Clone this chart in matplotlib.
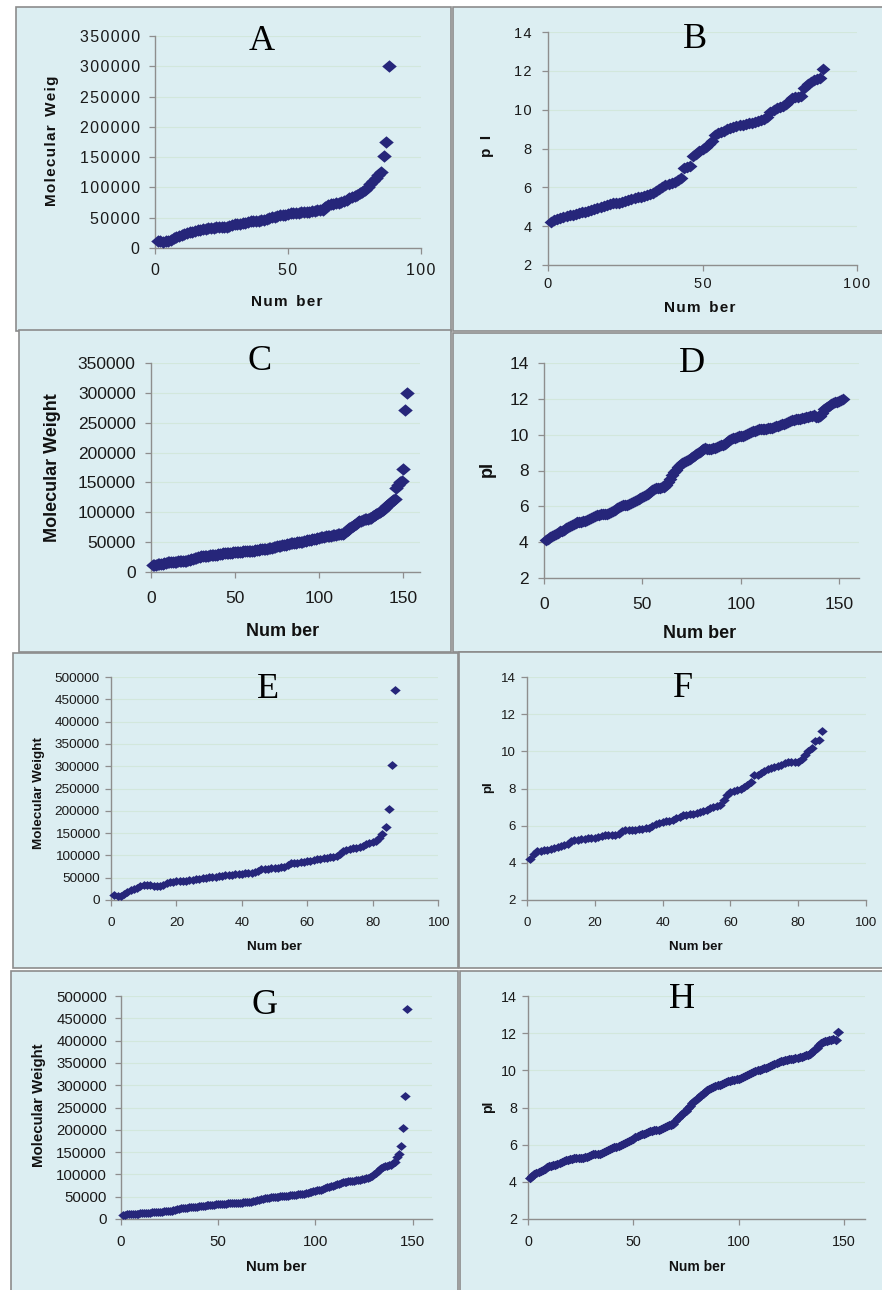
import numpy as np
import matplotlib
matplotlib.use("Agg")
import matplotlib.pyplot as plt
from matplotlib.ticker import MultipleLocator, FuncFormatter

# ---------------------------------------------------------------------------
# DATA (molecular weight in kDa, pI)
# ---------------------------------------------------------------------------

mw_a = [12, 11, 10, 11, 12, 14, 16, 18, 20, 22,
        23, 25, 26, 27, 28, 30, 30, 31, 32, 33,
        33, 33, 34, 34, 35, 35, 35, 36, 38, 39,
        40, 40, 41, 42, 43, 44, 44, 45, 45, 46,
        47, 48, 50, 51, 52, 53, 54, 55, 55, 56,
        57, 57, 58, 58, 59, 59, 60, 60, 61, 61,
        62, 62, 63, 68, 71, 72, 73, 74, 75, 76,
        78, 80, 82, 84, 86, 88, 90, 92, 95, 100,
        105, 110, 115, 120, 125, 152, 175, 300]

pi_b = [4.2, 4.3, 4.35, 4.4, 4.45, 4.5, 4.55, 4.6, 4.65, 4.7,
        4.75, 4.75, 4.8, 4.85, 4.9, 4.95, 5.0, 5.05, 5.1, 5.15,
        5.2, 5.2, 5.2, 5.25, 5.3, 5.35, 5.4, 5.45, 5.5, 5.5,
        5.55, 5.6, 5.65, 5.7, 5.8, 5.9, 6.0, 6.1, 6.15, 6.2,
        6.3, 6.4, 6.5, 7.0, 7.05, 7.1, 7.6, 7.7, 7.85, 8.0,
        8.1, 8.25, 8.4, 8.7, 8.8, 8.85, 8.9, 9.0, 9.05, 9.1,
        9.15, 9.2, 9.2, 9.25, 9.3, 9.3, 9.35, 9.4, 9.45, 9.5,
        9.6, 9.9, 10.0, 10.1, 10.15, 10.2, 10.3, 10.45, 10.6, 10.65,
        10.65, 10.7, 11.1, 11.3, 11.45, 11.55, 11.6, 11.65, 12.1]

mw_c = [11, 12, 12, 13, 13, 14, 14, 15, 15, 16,
        16, 16, 17, 17, 17, 18, 18, 18, 19, 19,
        19, 20, 20, 21, 22, 23, 24, 25, 25, 26,
        26, 27, 27, 27, 28, 28, 28, 29, 29, 30,
        30, 30, 31, 31, 31, 32, 32, 32, 33, 33,
        33, 34, 34, 34, 35, 35, 35, 35, 36, 36,
        36, 37, 37, 37, 38, 38, 38, 39, 39, 40,
        40, 41, 42, 42, 43, 44, 44, 45, 46, 46,
        47, 47, 48, 48, 49, 49, 50, 50, 51, 51,
        52, 52, 53, 53, 54, 55, 55, 56, 57, 57,
        58, 59, 59, 60, 60, 61, 61, 62, 62, 62,
        63, 63, 63, 64, 66, 68, 71, 73, 75, 77,
        79, 81, 83, 85, 86, 87, 88, 88, 89, 90,
        91, 93, 95, 97, 99, 100, 102, 104, 107, 110,
        112, 115, 118, 120, 123, 140, 145, 150, 153, 173, 272, 300]

pi_d = [4.1, 4.2, 4.3, 4.35, 4.4, 4.45, 4.5, 4.6, 4.65, 4.7,
        4.8, 4.85, 4.9, 4.95, 5.0, 5.05, 5.1, 5.1, 5.15, 5.2,
        5.2, 5.25, 5.3, 5.35, 5.4, 5.45, 5.5, 5.5, 5.55, 5.55,
        5.6, 5.6, 5.65, 5.7, 5.75, 5.8, 5.9, 5.95, 6.0, 6.05,
        6.1, 6.1, 6.15, 6.2, 6.25, 6.3, 6.35, 6.4, 6.45, 6.5,
        6.6, 6.65, 6.7, 6.8, 6.9, 6.95, 7.0, 7.05, 7.05, 7.1,
        7.1, 7.2, 7.35, 7.55, 7.75, 7.9, 8.05, 8.2, 8.3, 8.4,
        8.5, 8.55, 8.6, 8.65, 8.75, 8.8, 8.9, 9.0, 9.05, 9.15,
        9.2, 9.25, 9.2, 9.2, 9.2, 9.25, 9.25, 9.3, 9.35, 9.4,
        9.45, 9.5, 9.6, 9.7, 9.75, 9.8, 9.8, 9.85, 9.9, 9.9,
        9.95, 10.0, 10.05, 10.1, 10.15, 10.2, 10.2, 10.25, 10.3, 10.3,
        10.3, 10.3, 10.3, 10.35, 10.35, 10.4, 10.45, 10.5, 10.5, 10.55,
        10.6, 10.6, 10.65, 10.7, 10.75, 10.8, 10.8, 10.85, 10.9, 10.9,
        10.95, 10.95, 11.0, 11.0, 11.05, 11.05, 11.1, 11.0, 11.0, 11.05,
        11.2, 11.45, 11.5, 11.55, 11.6, 11.7, 11.75, 11.8, 11.85, 11.9, 11.95, 12.0]

mw_e = [11, 10, 9, 14, 19, 22, 25, 28, 31, 33,
        34, 33, 32, 32, 31, 33, 38, 41, 41, 42,
        42, 43, 43, 44, 45, 46, 48, 49, 50, 51,
        52, 52, 53, 54, 55, 56, 57, 58, 58, 59,
        60, 60, 61, 63, 66, 69, 70, 70, 71, 71,
        72, 73, 75, 79, 82, 83, 84, 85, 86, 87,
        88, 89, 91, 92, 94, 95, 96, 97, 99, 103,
        110, 113, 115, 116, 117, 119, 122, 125, 127, 130,
        133, 140, 148, 163, 203, 303, 470]

pi_f = [4.2, 4.5, 4.65, 4.65, 4.7, 4.7, 4.75, 4.8, 4.85, 4.9,
        4.95, 5.0, 5.2, 5.25, 5.25, 5.3, 5.3, 5.35, 5.35, 5.35,
        5.4, 5.45, 5.5, 5.5, 5.5, 5.5, 5.55, 5.7, 5.75, 5.75,
        5.75, 5.75, 5.8, 5.8, 5.85, 5.9, 6.0, 6.1, 6.15, 6.2,
        6.25, 6.25, 6.3, 6.4, 6.45, 6.55, 6.6, 6.65, 6.65, 6.7,
        6.75, 6.8, 6.85, 6.95, 7.0, 7.05, 7.1, 7.4, 7.65, 7.8,
        7.85, 7.9, 8.0, 8.1, 8.2, 8.35, 8.7, 8.75, 8.85, 8.95,
        9.05, 9.1, 9.15, 9.2, 9.25, 9.35, 9.4, 9.45, 9.45, 9.4,
        9.6, 9.8, 10.0, 10.2, 10.55, 10.6, 11.1]

mw_g = [10, 10, 11, 11, 11, 12, 12, 12, 12, 13,
        13, 13, 14, 14, 14, 15, 15, 15, 16, 16,
        16, 17, 17, 17, 18, 19, 20, 21, 22, 23,
        24, 24, 25, 25, 26, 27, 27, 28, 28, 29,
        29, 30, 30, 31, 31, 32, 32, 32, 33, 33,
        33, 34, 34, 34, 35, 35, 35, 36, 36, 36,
        36, 36, 37, 37, 37, 38, 39, 40, 41, 42,
        43, 44, 45, 46, 47, 48, 49, 49, 50, 50,
        50, 51, 51, 51, 52, 52, 53, 53, 54, 54,
        55, 55, 56, 57, 58, 59, 60, 61, 62, 63,
        64, 65, 66, 68, 69, 71, 72, 73, 75, 76,
        78, 79, 80, 82, 83, 84, 85, 85, 86, 86,
        87, 87, 88, 89, 90, 91, 92, 94, 97, 100,
        104, 108, 112, 115, 117, 118, 119, 120, 122, 125,
        128, 140, 145, 163, 203, 275, 470]

pi_h = [4.2, 4.3, 4.4, 4.5, 4.55, 4.6, 4.65, 4.7, 4.8, 4.85,
        4.85, 4.9, 4.9, 4.95, 5.0, 5.05, 5.1, 5.15, 5.2, 5.25,
        5.25, 5.3, 5.3, 5.3, 5.3, 5.3, 5.35, 5.35, 5.4, 5.45,
        5.5, 5.5, 5.5, 5.5, 5.55, 5.6, 5.65, 5.7, 5.75, 5.8,
        5.85, 5.9, 5.95, 6.0, 6.05, 6.1, 6.15, 6.2, 6.25, 6.3,
        6.4, 6.45, 6.5, 6.55, 6.6, 6.65, 6.7, 6.75, 6.75, 6.8,
        6.8, 6.8, 6.85, 6.9, 6.95, 7.0, 7.05, 7.05, 7.1, 7.3,
        7.45, 7.55, 7.65, 7.75, 7.8, 7.95, 8.1, 8.25, 8.35, 8.45,
        8.55, 8.65, 8.75, 8.85, 8.95, 9.0, 9.05, 9.1, 9.15, 9.2,
        9.2, 9.25, 9.3, 9.35, 9.4, 9.45, 9.5, 9.5, 9.55, 9.55,
        9.6, 9.65, 9.7, 9.75, 9.8, 9.85, 9.9, 9.95, 10.0, 10.0,
        10.05, 10.1, 10.15, 10.2, 10.25, 10.3, 10.35, 10.4, 10.45, 10.5,
        10.5, 10.55, 10.55, 10.6, 10.6, 10.6, 10.65, 10.65, 10.7, 10.7,
        10.75, 10.8, 10.85, 10.9, 11.0, 11.1, 11.2, 11.35, 11.45, 11.55,
        11.6, 11.6, 11.65, 11.65, 11.7, 11.65, 12.05]

panel_letters = ["A", "B", "C", "D", "E", "F", "G", "H"]

# ---------------------------------------------------------------------------
# LAYOUT (pixel boxes on a 882 x 1290 canvas)
# ---------------------------------------------------------------------------

W, H = 882, 1290
BG = "#dceef2"
FRAME = "#8c8c8c"
NAVY = "#26267a"
GRID = "#d2e7dc"
SANS = ["Liberation Sans", "DejaVu Sans"]
SERIF = ["Liberation Serif", "DejaVu Serif"]


def fx(x):
    return x / W


def fy(y):
    return 1 - y / H


def box(x0, y0, x1, y1):
    return [fx(x0), fy(y1), (x1 - x0) / W, (y1 - y0) / H]


def spaced(s):
    # old Excel charts print labels with loose letter spacing
    return "\u200a".join(s)


diamond = [(-1, 0), (0, 0.85), (1, 0), (0, -0.85), (-1, 0)]

panels = [
    dict(data=mw_a, frame=(16, 7, 451, 331), area=(155, 36, 421, 248), xmax=100, xstep=50,
         kind="mw", ymax=350, ms=10.5, fs=11.5, lfs=11, loose=True,
         ylab="Molecular Weig", xlab="Num ber", ylab_xy=(52, 141), xlab_xy=(287, 302),
         title_xy=(262, 50), ypad=7, xpad=7),
    dict(data=pi_b, frame=(453, 7, 890, 331), area=(548, 32, 857, 265), xmax=100, xstep=50,
         kind="pi", ms=10, fs=10.5, lfs=11, loose=True,
         ylab="p I", xlab="Num  ber", ylab_xy=(487, 146), xlab_xy=(700, 308),
         title_xy=(695, 48), ypad=8, xpad=5),
    dict(data=mw_c, frame=(19, 330, 451, 652), area=(151, 363, 420, 572), xmax=160, xstep=50,
         kind="mw", ymax=350, ms=10.5, fs=12.5, lfs=13, loose=False,
         ylab="Molecular Weight", xlab="Num ber", ylab_xy=(53, 468), xlab_xy=(283, 631),
         title_xy=(260, 370), ypad=7, xpad=10),
    dict(data=pi_d, frame=(453, 333, 890, 652), area=(544, 363, 859, 578), xmax=160, xstep=50,
         kind="pi", ms=10, fs=12.5, lfs=13, loose=False,
         ylab="pI", xlab="Num ber", ylab_xy=(487, 469), xlab_xy=(700, 633),
         title_xy=(692, 372), ypad=7, xpad=10),
    dict(data=mw_e, frame=(13, 653, 458, 968), area=(111, 677, 438, 900), xmax=100, xstep=20,
         kind="mw", ymax=500, ms=7.5, fs=9.7, lfs=9.7, loose=False,
         ylab="Molecular Weight", xlab="Num ber", ylab_xy=(39, 793), xlab_xy=(274, 947),
         title_xy=(268, 698), ypad=4, xpad=8),
    dict(data=pi_f, frame=(459, 652, 890, 968), area=(527, 677, 866, 900), xmax=100, xstep=20,
         kind="pi", ms=7.5, fs=9.5, lfs=9.5, loose=False,
         ylab="pI", xlab="Num ber", ylab_xy=(488, 787), xlab_xy=(696, 947),
         title_xy=(683, 697), ypad=4, xpad=8),
    dict(data=mw_g, frame=(11, 971, 458, 1295), area=(121, 996, 432, 1219), xmax=160, xstep=50,
         kind="mw", ymax=500, ms=7.5, fs=10.8, lfs=10.8, loose=False,
         ylab="Molecular Weight", xlab="Num ber", ylab_xy=(39, 1105), xlab_xy=(276, 1267),
         title_xy=(265, 1014), ypad=6, xpad=7.5),
    dict(data=pi_h, frame=(460, 971, 890, 1295), area=(528, 996, 865, 1219), xmax=160, xstep=50,
         kind="pi", ms=8, fs=10.3, lfs=10, loose=False,
         ylab="pI", xlab="Num ber", ylab_xy=(488, 1107), xlab_xy=(697, 1267),
         title_xy=(682, 1008), ypad=4, xpad=7.5),
]

#############################################################################
## DRAWING ##################################################################
#############################################################################

fig = plt.figure(figsize=(W / 100, H / 100), dpi=100)
fig.patch.set_facecolor("white")

for letter, p in zip(panel_letters, panels):

    # panel background with its grey frame
    x0, y0, x1, y1 = p["frame"]
    fig.patches.append(plt.Rectangle((fx(x0), fy(y1)), (x1 - x0) / W, (y1 - y0) / H,
                                     transform=fig.transFigure, facecolor=BG,
                                     edgecolor=FRAME, linewidth=1.2, zorder=-5))

    ax = fig.add_axes(box(*p["area"]))
    ax.set_zorder(2)
    ax.set_facecolor("none")

    y = np.array(p["data"], dtype=float)
    x = np.arange(1, len(y) + 1)
    if p["kind"] == "mw":
        y = y * 1000
        ax.set_ylim(0, p["ymax"] * 1000)
        ax.yaxis.set_major_locator(MultipleLocator(50000))
    else:
        ax.set_ylim(2, 14)
        ax.yaxis.set_major_locator(MultipleLocator(2))

    ax.plot(x, y, linestyle="none", marker=diamond, markersize=p["ms"],
            color=NAVY, markeredgewidth=0, zorder=3, clip_on=False)

    ax.set_xlim(0, p["xmax"])
    ax.xaxis.set_major_locator(MultipleLocator(p["xstep"]))

    if p["loose"]:
        fmt = FuncFormatter(lambda v, pos: spaced(f"{v:.0f}"))
    else:
        fmt = FuncFormatter(lambda v, pos: f"{v:.0f}")
    ax.xaxis.set_major_formatter(fmt)
    ax.yaxis.set_major_formatter(fmt)

    ax.grid(axis="y", color=GRID, linewidth=0.8, zorder=0)
    ax.set_axisbelow(True)
    for side in ("top", "right"):
        ax.spines[side].set_visible(False)
    for side in ("left", "bottom"):
        ax.spines[side].set_color("#8e8e8e")
        ax.spines[side].set_linewidth(1.0)

    ax.tick_params(axis="both", direction="out", length=4, width=0.9, color="#8e8e8e",
                   labelsize=p["fs"], labelcolor="#1a1a1a")
    ax.tick_params(axis="y", pad=p["ypad"])
    ax.tick_params(axis="x", pad=p["xpad"])
    for lab in ax.get_xticklabels() + ax.get_yticklabels():
        lab.set_family(SANS)

    # axis titles and panel letter
    ylab = p["ylab"]
    xlab = p["xlab"]
    if p["loose"]:
        ylab = "  ".join(spaced(w) for w in ylab.split(" "))
        xlab = "  ".join(spaced(w) for w in xlab.split())
    fig.text(fx(p["ylab_xy"][0]), fy(p["ylab_xy"][1]), ylab, rotation=90,
             ha="center", va="center", fontsize=p["lfs"], fontweight="bold",
             family=SANS, color="#111111", zorder=3)
    fig.text(fx(p["xlab_xy"][0]), fy(p["xlab_xy"][1]), xlab,
             ha="center", va="center", fontsize=p["lfs"], fontweight="bold",
             family=SANS, color="#111111", zorder=3)
    fig.text(fx(p["title_xy"][0]), fy(p["title_xy"][1]), letter,
             ha="center", va="baseline", fontsize=26, family=SERIF, color="black",
             zorder=3)

fig.savefig("out.png", dpi=100, facecolor="white")
